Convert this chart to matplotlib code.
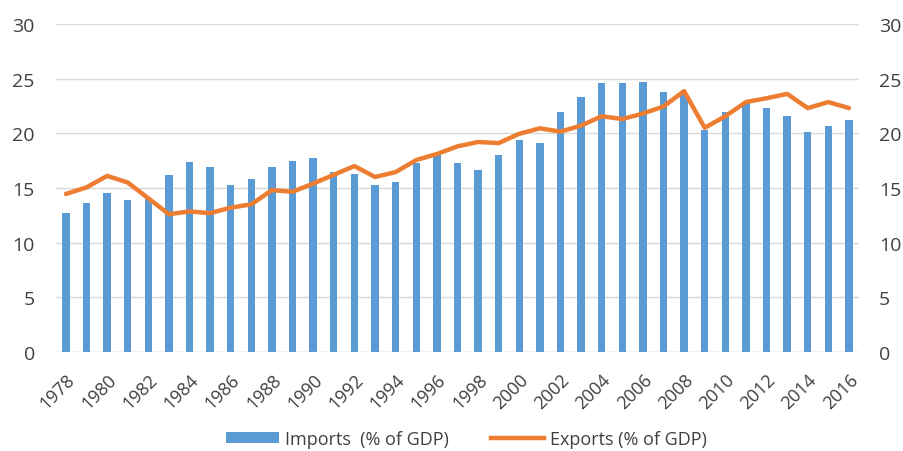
import matplotlib
matplotlib.use("Agg")
import matplotlib.pyplot as plt
from matplotlib.patches import Patch
from matplotlib.lines import Line2D
import numpy as np

years = list(range(1978, 2017))
imports = [12.7, 13.6, 14.5, 13.9, 14.0, 16.2, 17.35, 16.9, 15.3, 15.8,
           16.9, 17.5, 17.7, 16.5, 16.3, 15.3, 15.5, 17.3, 18.0, 17.3,
           16.65, 18.05, 19.35, 19.1, 21.9, 23.3, 24.55, 24.55, 24.7, 23.75,
           23.6, 20.3, 21.9, 22.8, 22.3, 21.6, 20.15, 20.7, 21.2]
exports = [14.45, 15.05, 16.1, 15.5, 14.05, 12.6, 12.85, 12.7, 13.2, 13.5,
           14.8, 14.65, 15.4, 16.2, 17.0, 16.0, 16.45, 17.55, 18.1, 18.8,
           19.2, 19.1, 19.95, 20.45, 20.15, 20.7, 21.55, 21.3, 21.8, 22.45,
           23.85, 20.5, 21.55, 22.85, 23.2, 23.6, 22.3, 22.85, 22.3]
yticks = [0, 5, 10, 15, 20, 25, 30]
import_label = "Imports  (% of GDP)"
export_label = "Exports (% of GDP)"

blue = "#5B9BD5"
orange = "#ED7D31"
txt = "#404040"

plt.rcParams['font.family'] = ['Open Sans', 'DejaVu Sans']

fig = plt.figure(figsize=(9.04, 4.52), dpi=100)
ax = fig.add_axes([0.0615, 0.219, 0.889, 0.726])

x = np.arange(len(years))
ax.bar(x, imports, width=0.36, color=blue, zorder=2)
ax.plot(x, exports, color=orange, linewidth=3.2, zorder=3, solid_capstyle='round')

ax.set_xlim(-0.5, len(years) - 0.5)
ax.set_ylim(0, 30)
ax.set_yticks(yticks)
ax.yaxis.grid(True, color="#d9d9d9", linewidth=1.0, zorder=0)
ax.set_axisbelow(True)
for s in ax.spines.values():
    s.set_visible(False)
ax.axhline(0, color="#d9d9d9", linewidth=1.0, zorder=1)

ax.tick_params(axis='y', length=0, pad=15, labelsize=14, labelcolor=txt)
ax.set_yticklabels([str(t) for t in yticks])

tick_idx = x[::2]
ax.set_xticks(tick_idx)
ax.set_xticklabels([str(years[i]) for i in tick_idx], rotation=45, ha='right',
                   rotation_mode='anchor', fontsize=13, color=txt)
ax.tick_params(axis='x', length=0, pad=13)

ax2 = ax.twinx()
ax2.set_ylim(0, 30)
ax2.set_yticks(yticks)
ax2.set_yticklabels([str(t) for t in yticks])
ax2.tick_params(axis='y', length=0, pad=14, labelsize=14, labelcolor=txt)
for s in ax2.spines.values():
    s.set_visible(False)

handles = [Patch(facecolor=blue, edgecolor='none'),
           Line2D([0], [0], color=orange, linewidth=3.2)]
leg = fig.legend(handles, [import_label, export_label], loc='center',
                 bbox_to_anchor=(0.516, 0.026), ncol=2, frameon=False,
                 handlelength=2.9, handleheight=0.55,
                 columnspacing=2.35, handletextpad=0.35,
                 prop={'size': 13})
for t in leg.get_texts():
    t.set_color(txt)

fig.savefig("out.png", dpi=100)
